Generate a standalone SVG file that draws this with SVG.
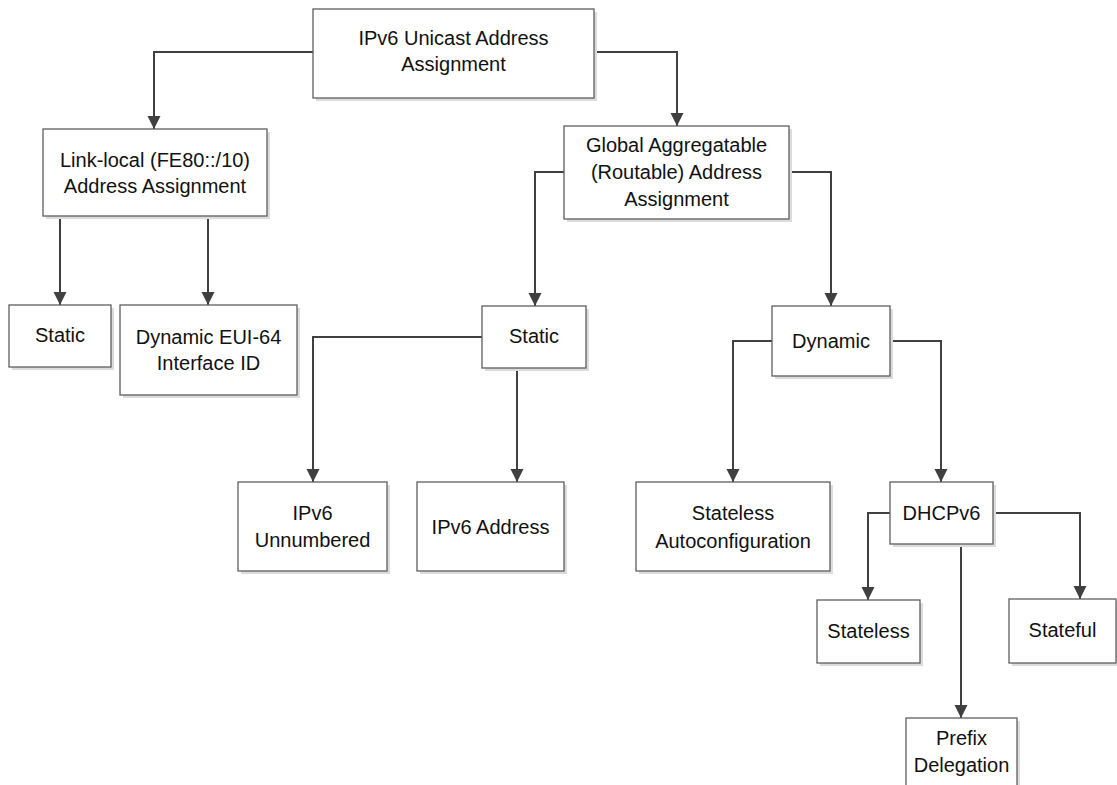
<svg xmlns="http://www.w3.org/2000/svg" width="1117" height="785" viewBox="0 0 1117 785">
<style>
.box{fill:#fff;stroke:#5e5e5e;stroke-width:1.3}
.sh{fill:#dcdcdc}
.t{font-family:"Liberation Sans",Arial,sans-serif;font-size:20px;fill:#111;text-anchor:middle}
.c{fill:none;stroke:#404040;stroke-width:2;marker-end:url(#ah)}
</style>
<defs>
<marker id="ah" markerUnits="userSpaceOnUse" markerWidth="14" markerHeight="14" viewBox="0 0 14 14" refX="13" refY="7" orient="auto">
<path d="M0,0.5 L13,7 L0,13.5 z" fill="#404040"/>
</marker>
</defs>
<rect width="1117" height="785" fill="#fff"/>
<g id="connectors">
<path class="c" d="M313,52 H154 V129"/>
<path class="c" d="M594,52 H677 V126"/>
<path class="c" d="M60,216 V305"/>
<path class="c" d="M208,216 V305"/>
<path class="c" d="M564,172 H535 V306"/>
<path class="c" d="M789,172 H831 V306"/>
<path class="c" d="M482,337 H313 V482"/>
<path class="c" d="M517,368 V482"/>
<path class="c" d="M772,341 H733 V482"/>
<path class="c" d="M890,341 H941 V482"/>
<path class="c" d="M890,513 H868 V600"/>
<path class="c" d="M993,513 H1080 V599"/>
<path class="c" d="M961,544 V718"/>
</g>
<g id="n-root">
<rect class="sh" x="316" y="12" width="281" height="89"/>
<rect class="box" x="313" y="9" width="281" height="89"/>
<text class="t" x="453.5" y="45">IPv6 Unicast Address</text>
<text class="t" x="453.5" y="71">Assignment</text>
</g>
<g id="n-linklocal">
<rect class="sh" x="46" y="132" width="224" height="87"/>
<rect class="box" x="43" y="129" width="224" height="87"/>
<text class="t" x="155" y="167">Link-local (FE80::/10)</text>
<text class="t" x="155" y="193">Address Assignment</text>
</g>
<g id="n-global">
<rect class="sh" x="567" y="129" width="225" height="93"/>
<rect class="box" x="564" y="126" width="225" height="93"/>
<text class="t" x="676.5" y="152">Global Aggregatable</text>
<text class="t" x="676.5" y="179">(Routable) Address</text>
<text class="t" x="676.5" y="206">Assignment</text>
</g>
<g id="n-static-ll">
<rect class="sh" x="12" y="308" width="102" height="62"/>
<rect class="box" x="9" y="305" width="102" height="62"/>
<text class="t" x="60" y="342">Static</text>
</g>
<g id="n-eui64">
<rect class="sh" x="123" y="308" width="177" height="90"/>
<rect class="box" x="120" y="305" width="177" height="90"/>
<text class="t" x="208.5" y="344">Dynamic EUI-64</text>
<text class="t" x="208.5" y="370">Interface ID</text>
</g>
<g id="n-static-g">
<rect class="sh" x="485" y="309" width="104" height="62"/>
<rect class="box" x="482" y="306" width="104" height="62"/>
<text class="t" x="534" y="343">Static</text>
</g>
<g id="n-dynamic">
<rect class="sh" x="775" y="309" width="118" height="70"/>
<rect class="box" x="772" y="306" width="118" height="70"/>
<text class="t" x="831" y="348">Dynamic</text>
</g>
<g id="n-unnumbered">
<rect class="sh" x="241" y="485" width="149" height="89"/>
<rect class="box" x="238" y="482" width="149" height="89"/>
<text class="t" x="312.5" y="520">IPv6</text>
<text class="t" x="312.5" y="547">Unnumbered</text>
</g>
<g id="n-ipv6addr">
<rect class="sh" x="420" y="485" width="147" height="89"/>
<rect class="box" x="417" y="482" width="147" height="89"/>
<text class="t" x="490.5" y="534">IPv6 Address</text>
</g>
<g id="n-slaac">
<rect class="sh" x="639" y="485" width="194" height="89"/>
<rect class="box" x="636" y="482" width="194" height="89"/>
<text class="t" x="733" y="520">Stateless</text>
<text class="t" x="733" y="548">Autoconfiguration</text>
</g>
<g id="n-dhcpv6">
<rect class="sh" x="893" y="485" width="103" height="62"/>
<rect class="box" x="890" y="482" width="103" height="62"/>
<text class="t" x="941.5" y="520">DHCPv6</text>
</g>
<g id="n-stateless">
<rect class="sh" x="820" y="603" width="103" height="63"/>
<rect class="box" x="817" y="600" width="103" height="63"/>
<text class="t" x="868.5" y="638">Stateless</text>
</g>
<g id="n-stateful">
<rect class="sh" x="1012" y="602" width="107" height="64"/>
<rect class="box" x="1009" y="599" width="107" height="64"/>
<text class="t" x="1062.5" y="637">Stateful</text>
</g>
<g id="n-prefix">
<rect class="sh" x="909" y="721" width="111" height="90"/>
<rect class="box" x="906" y="718" width="111" height="90"/>
<text class="t" x="961.5" y="745">Prefix</text>
<text class="t" x="961.5" y="772">Delegation</text>
</g>
</svg>
